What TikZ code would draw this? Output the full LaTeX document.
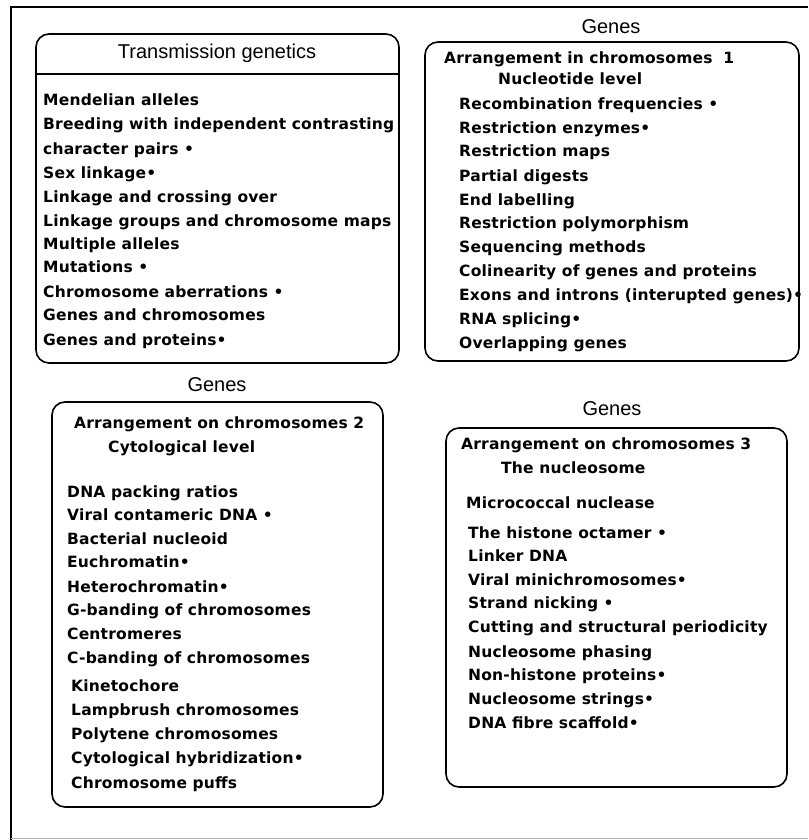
\documentclass[tikz,border=0pt]{standalone}
\usepackage{fontspec}
\setmainfont{Liberation Sans}
\newfontfamily\itemfamily[LetterSpace=1.3]{DejaVu Sans}
\begin{document}
\begin{tikzpicture}[x=1pt,y=-1pt,
  panel/.style={draw=black,line width=1.6pt,rounded corners=13pt},
  heading/.style={font=\fontsize{20}{24}\selectfont,inner sep=0pt,anchor=center},
  entry/.style={font=\itemfamily\bfseries\fontsize{15.5}{18}\selectfont,inner sep=0pt,anchor=base west},
  frameline/.style={draw=black,line width=1.5pt}]
\useasboundingbox (0,0) rectangle (808,840);
\fill[white] (0,0) rectangle (808,840);

% outer frame, open on the right
\coordinate (fTL) at (11,7);
\coordinate (fTR) at (808,7);
\coordinate (fBL) at (11,840);
\coordinate (fBR) at (808,838);
\draw[frameline] (fTR) -- (fTL) -- (fBL);
\draw[gray!60,line width=1pt] (11,838) -- (fBR);

% ---- Transmission genetics ----
\draw[panel] (36,34) rectangle (399,363);
\draw[line width=1.6pt] (36,74) -- (399,74);
\node[heading] (tgH) at (217,53) {Transmission genetics};
\node[entry] (a1)  at (43,106) {Mendelian alleles};
\node[entry] (a2)  at (43,130) {Breeding with independent contrasting};
\node[entry] (a3)  at (43,154) {character pairs •};
\node[entry] (a4)  at (43,178) {Sex linkage•};
\node[entry] (a5)  at (43,202) {Linkage and crossing over};
\node[entry] (a6)  at (43,226) {Linkage groups and chromosome maps};
\node[entry] (a7)  at (43,249) {Multiple alleles};
\node[entry] (a8)  at (43,272) {Mutations •};
\node[entry] (a9)  at (43,297) {Chromosome aberrations •};
\node[entry] (a10) at (43,320) {Genes and chromosomes};
\node[entry] (a11) at (43,345) {Genes and proteins•};

% ---- Genes: arrangement 1 ----
\node[heading] (g1H) at (611,27) {Genes};
\draw[panel] (425,42) rectangle (799,361);
\node[entry] (b0)  at (444,64) {Arrangement in chromosomes\hspace{0.7em}1};
\node[entry] (b00) at (498,85) {Nucleotide level};
\node[entry] (b1)  at (459,110) {Recombination frequencies •};
\node[entry] (b2)  at (459,133) {Restriction enzymes•};
\node[entry] (b3)  at (459,157) {Restriction maps};
\node[entry] (b4)  at (459,181) {Partial digests};
\node[entry] (b5)  at (459,205) {End labelling};
\node[entry] (b6)  at (459,228) {Restriction polymorphism};
\node[entry] (b7)  at (459,252) {Sequencing methods};
\node[entry] (b8)  at (459,276) {Colinearity of genes and proteins};
\node[entry] (b9)  at (459,300) {Exons and introns (interupted genes)•};
\node[entry] (b10) at (459,324) {RNA splicing•};
\node[entry] (b11) at (459,348) {Overlapping genes};

% ---- Genes: arrangement 2 ----
\node[heading] (g2H) at (217,385) {Genes};
\draw[panel] (52,402) rectangle (383,807);
\node[entry] (c0)  at (74,428) {Arrangement on chromosomes 2};
\node[entry] (c00) at (108,452) {Cytological level};
\node[entry] (c1)  at (67,497) {DNA packing ratios};
\node[entry] (c2)  at (67,520) {Viral contameric DNA •};
\node[entry] (c3)  at (67,544) {Bacterial nucleoid};
\node[entry] (c4)  at (67,567) {Euchromatin•};
\node[entry] (c5)  at (67,592) {Heterochromatin•};
\node[entry] (c6)  at (67,615) {G-banding of chromosomes};
\node[entry] (c7)  at (67,639) {Centromeres};
\node[entry] (c8)  at (67,663) {C-banding of chromosomes};
\node[entry] (c9)  at (71,691) {Kinetochore};
\node[entry] (c10) at (71,715) {Lampbrush chromosomes};
\node[entry] (c11) at (71,739) {Polytene chromosomes};
\node[entry] (c12) at (71,763) {Cytological hybridization•};
\node[entry] (c13) at (71,788) {Chromosome puffs};

% ---- Genes: arrangement 3 ----
\node[heading] (g3H) at (612,409) {Genes};
\draw[panel] (446,428) rectangle (787,787);
\node[entry] (d0)  at (461,449) {Arrangement on chromosomes 3};
\node[entry] (d00) at (501,473) {The nucleosome};
\node[entry] (d1)  at (466,508) {Micrococcal nuclease};
\node[entry] (d2)  at (468,538) {The histone octamer •};
\node[entry] (d3)  at (468,561) {Linker DNA};
\node[entry] (d4)  at (468,585) {Viral minichromosomes•};
\node[entry] (d5)  at (468,608) {Strand nicking •};
\node[entry] (d6)  at (468,632) {Cutting and structural periodicity};
\node[entry] (d7)  at (468,657) {Nucleosome phasing};
\node[entry] (d8)  at (468,680) {Non-histone proteins•};
\node[entry] (d9)  at (468,704) {Nucleosome strings•};
\node[entry] (d10) at (468,728) {DNA fibre scaffold•};
\end{tikzpicture}
\end{document}
